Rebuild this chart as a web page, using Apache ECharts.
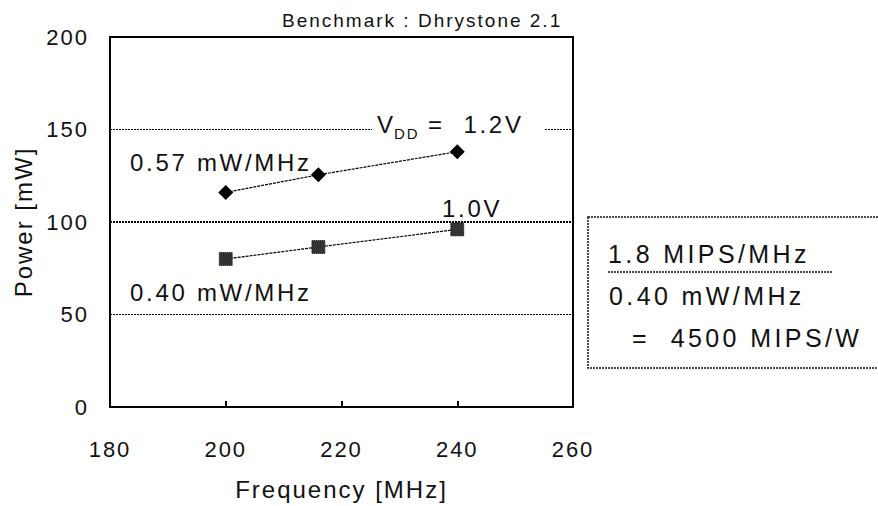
<!DOCTYPE html>
<html><head><meta charset="utf-8">
<script src="https://cdn.jsdelivr.net/npm/echarts@6/dist/echarts.min.js"></script>
<style>html,body{margin:0;padding:0;background:#fff}#c{width:878px;height:506px}#c text{letter-spacing:2px}</style>
</head><body><div id="c"></div>
<script>
const freq12 = [200, 216, 240];
const power12 = [116, 125.5, 138];
const freq10 = [200, 216, 240];
const power10 = [80, 86.5, 96];
const xTicks = [180, 200, 220, 240, 260];
const yTicks = [0, 50, 100, 150, 200];

const FONT = '"Liberation Sans", Arial, sans-serif';
const C = '#111';
const chart = echarts.init(document.getElementById('c'), null, {renderer: 'svg'});
chart.setOption({
  animation: false,
  backgroundColor: '#fff',
  grid: {left: 110, top: 37, width: 463, height: 370, show: true, borderColor: '#000', borderWidth: 2, backgroundColor: 'transparent'},
  xAxis: {
    type: 'value', min: xTicks[0], max: xTicks[xTicks.length-1], interval: 20,
    name: 'Frequency [MHz]', nameLocation: 'middle', nameGap: 70,
    nameTextStyle: {fontFamily: FONT, fontSize: 24, color: C},
    axisLine: {lineStyle: {color: '#000', width: 2}},
    axisTick: {inside: true, length: 6, lineStyle: {color: '#000', width: 2}},
    axisLabel: {fontFamily: FONT, fontSize: 22, color: C, margin: 31},
    splitLine: {show: false}
  },
  yAxis: {
    type: 'value', min: yTicks[0], max: yTicks[yTicks.length-1], interval: 50,
    name: 'Power [mW]', nameLocation: 'middle', nameGap: 75, nameRotate: 90,
    nameTextStyle: {fontFamily: FONT, fontSize: 24, color: C},
    axisLine: {lineStyle: {color: '#000', width: 2}},
    axisTick: {show: false},
    axisLabel: {fontFamily: FONT, fontSize: 22, color: C, margin: 21, padding: [8, 0, 0, 0]},
    splitLine: {lineStyle: {color: '#000', width: 1, type: [2, 1]}}
  },
  series: [
    {
      type: 'line', data: freq12.map((f, i) => [f, power12[i]]),
      symbol: 'diamond', symbolSize: 15, z: 5,
      itemStyle: {color: '#000'},
      lineStyle: {color: '#000', width: 1.2, type: [3, 1]},
      markLine: {silent: true, symbol: 'none', label: {show: false},
        lineStyle: {color: '#000', width: 2, type: [2, 1]},
        data: [{yAxis: yTicks[2]}]}
    },
    {
      type: 'line', data: freq10.map((f, i) => [f, power10[i]]),
      symbol: 'rect', symbolSize: 13, z: 5,
      itemStyle: {color: '#333', borderColor: '#111', borderWidth: 1, borderType: 'dotted'},
      lineStyle: {color: '#000', width: 1.2, type: [3, 1]}
    }
  ],
  graphic: [
    {type: 'text', x: 282, y: 20, style: {text: 'Benchmark : Dhrystone 2.1', font: '19px ' + FONT, fill: C, textVerticalAlign: 'middle'}},
    {type: 'rect', z: 100, shape: {x: 372, y: 124, width: 173, height: 12}, style: {fill: '#fff'}},
    {type: 'text', z: 101, x: 377, y: 124, style: {text: 'V', font: '24px ' + FONT, fill: C, textVerticalAlign: 'middle'}},
    {type: 'text', z: 101, x: 394, y: 133, style: {text: 'DD', font: '15px ' + FONT, fill: C, textVerticalAlign: 'middle'}},
    {type: 'text', z: 101, x: 428, y: 124, style: {text: '=  1.2V', font: '24px ' + FONT, fill: C, textVerticalAlign: 'middle'}},
    {type: 'text', x: 130, y: 162, style: {text: '0.57 mW/MHz', font: '24px ' + FONT, fill: C, textVerticalAlign: 'middle'}},
    {type: 'text', x: 442, y: 208, style: {text: '1.0V', font: '24px ' + FONT, fill: C, textVerticalAlign: 'middle'}},
    {type: 'text', x: 130, y: 292, style: {text: '0.40 mW/MHz', font: '24px ' + FONT, fill: C, textVerticalAlign: 'middle'}},
    {type: 'rect', shape: {x: 588, y: 217, width: 300, height: 151}, style: {fill: 'none', stroke: C, lineWidth: 1.5, lineDash: [2, 1]}},
    {type: 'text', x: 608, y: 254, style: {text: '1.8 MIPS/MHz', font: '25px ' + FONT, fill: C, textVerticalAlign: 'middle'}},
    {type: 'line', shape: {x1: 608, y1: 272, x2: 832, y2: 272}, style: {stroke: C, lineWidth: 1.5, lineDash: [2, 1]}},
    {type: 'text', x: 609, y: 296, style: {text: '0.40 mW/MHz', font: '25px ' + FONT, fill: C, textVerticalAlign: 'middle'}},
    {type: 'text', x: 632, y: 338, style: {text: '=  4500 MIPS/W', font: '25px ' + FONT, fill: C, textVerticalAlign: 'middle'}}
  ]
});
// letter spacing tuned to the reference's wide type
const wide = ['0.57 mW/MHz', '0.40 mW/MHz', '=  1.2V', '1.0V'];
document.querySelectorAll('#c text').forEach(el => {
  const fs = parseFloat(getComputedStyle(el).fontSize);
  const t = el.textContent;
  if (fs >= 24.5) el.style.letterSpacing = '3.4px';
  else if (wide.indexOf(t) >= 0) el.style.letterSpacing = '2.7px';
});
</script></body></html>
